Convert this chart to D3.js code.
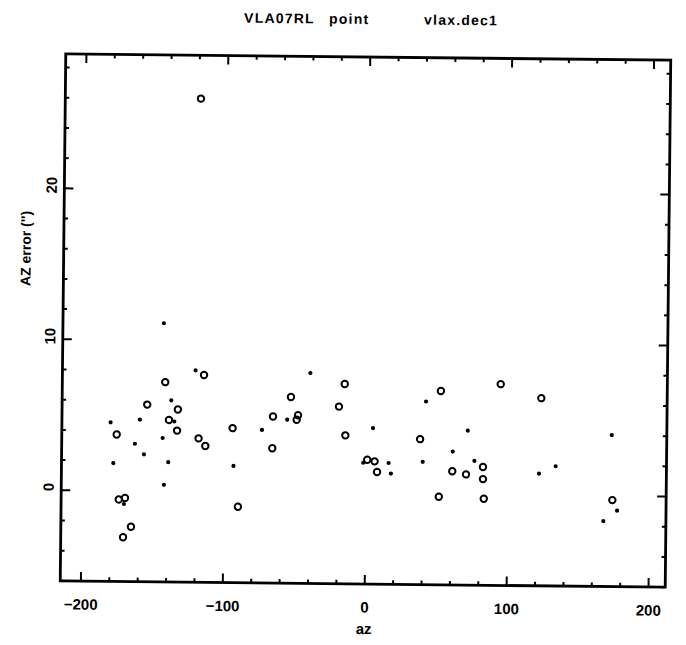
<!DOCTYPE html>
<html>
<head>
    <title>VLA07RL point</title>
    <script src="https://cdn.jsdelivr.net/npm/d3@7/dist/d3.min.js"></script>
    <style>
        body {
            margin: 0;
            background: #fff;
            font-family: "Liberation Sans", Arial, sans-serif;
        }
        text {
            font-weight: bold;
            fill: #000;
        }
    </style>
</head>
<body>
    <svg width="686" height="645" id="mainsvg" style="display: block;"></svg>
    <script>
        // filled dots
        const filledAz = [-143.1, -120.4, -137.3, -179.9, -159.3, -135.0, -143.1, -162.6, -156.2, -177.7,
            -139.0, -141.9, -93.0, -169.9, -39.5, -55.5, -73.2, 5.0, -1.6, 16.3,
            18.0, 42.2, 71.8, 61.4, 40.3, 76.7, 122.3, 134.0, 173.3, 177.6, 168.0];
        const filledErr = [11.1, 8.0, 6.0, 4.5, 4.7, 4.6, 3.5, 3.1, 2.4, 1.8,
            1.9, 0.4, 1.7, -0.9, 7.9, 4.8, 4.1, 4.3, 2.0, 2.0,
            1.3, 6.1, 4.2, 2.8, 2.1, 2.2, 1.4, 1.9, 4.0, -1.0, -1.7];

        // open circles
        const openAz = [-118.6, -114.4, -141.7, -154.2, -132.6, -138.8, -133.0, -175.5, -117.8, -113.0,
            -93.9, -173.6, -169.2, -164.8, -170.3, -89.6, -53.0, -65.5, -47.9, -48.8,
            -65.8, -15.2, -19.1, -14.4, 1.2, 6.4, 8.2, 52.6, 94.7, 123.4,
            38.3, 61.2, 70.9, 82.8, 82.9, 51.9, 83.6, 174.2];
        const openErr = [26.0, 7.7, 7.2, 5.7, 5.4, 4.7, 4.0, 3.7, 3.5, 3.0,
            4.2, -0.6, -0.5, -2.4, -3.1, -1.0, 6.3, 5.0, 5.1, 4.8,
            2.9, 7.2, 5.7, 3.8, 2.2, 2.1, 1.4, 6.8, 7.3, 6.4,
            3.6, 1.5, 1.3, 1.8, 1.0, -0.2, -0.3, -0.3];

        const xMajor = [-200, -100, 0, 100, 200];
        const yMajor = [0, 10, 20];
        const titleParts = ['VLA07RL', 'point', 'vlax.dec1'];
        const titleX = [241, 326, 421];

        const svg = d3.select('#mainsvg');
        const margin = { top: 57, right: 18, bottom: 61, left: 63 };
        const width = +svg.attr('width');
        const height = +svg.attr('height');
        const innerWidth = width - margin.left - margin.right;
        const innerHeight = height - margin.top - margin.bottom;

        // the scan is slightly tilted
        const page = svg.append('g')
            .attr('transform', 'rotate(0.6, 365, 320)');

        page.selectAll('text.title')
            .data(titleParts)
            .enter()
            .append('text')
                .attr('class', 'title')
                .attr('x', (d, i) => titleX[i])
                .attr('y', 24)
                .attr('font-size', 14)
                .attr('letter-spacing', 1.2)
                .text(d => d);

        const g = page.append('g')
            .attr('transform', `translate(${margin.left}, ${margin.top})`);

        const xScale = d3.scaleLinear()
            .domain([-214.2, 212.1])
            .range([0, innerWidth]);

        const yScale = d3.scaleLinear()
            .domain([-6.03, 28.87])
            .range([innerHeight, 0]);

        const xMinor = d3.range(-200, 201, 20).filter(v => !xMajor.includes(v));
        const yMinor = d3.range(-6, 29, 2).filter(v => !yMajor.includes(v));

        function styleAxis(sel) {
            sel.select('.domain').remove();
            sel.selectAll('line').attr('stroke', '#000').attr('stroke-width', 2);
        }

        // ticks on all four sides, pointing inwards
        g.append('g')
            .attr('transform', `translate(0, ${innerHeight})`)
            .call(d3.axisBottom(xScale).tickValues(xMajor).tickSize(-9).tickPadding(18).tickFormat(d => d === 0 ? '0' : d < 0 ? '\u2212' + (-d) : d))
            .call(styleAxis)
            .selectAll('text')
            .attr('font-size', 15)
            .attr('font-family', '"Liberation Sans", Arial, sans-serif');
        g.append('g')
            .attr('transform', `translate(0, ${innerHeight})`)
            .call(d3.axisBottom(xScale).tickValues(xMinor).tickSize(-4).tickFormat(''))
            .call(styleAxis);
        g.append('g')
            .call(d3.axisTop(xScale).tickValues(xMajor).tickSize(-9).tickFormat(''))
            .call(styleAxis);
        g.append('g')
            .call(d3.axisTop(xScale).tickValues(xMinor).tickSize(-4).tickFormat(''))
            .call(styleAxis);

        const yAxisG = g.append('g')
            .call(d3.axisLeft(yScale).tickValues(yMajor).tickSize(-9).tickFormat(d => d))
            .call(styleAxis);
        yAxisG.selectAll('text')
            .attr('font-size', 15)
            .attr('font-family', '"Liberation Sans", Arial, sans-serif')
            .attr('text-anchor', 'middle')
            .attr('dy', null)
            .attr('x', null)
            .attr('transform', 'translate(-13, -3) rotate(-90)')
            .attr('dominant-baseline', 'central');
        g.append('g')
            .call(d3.axisLeft(yScale).tickValues(yMinor).tickSize(-4).tickFormat(''))
            .call(styleAxis);
        g.append('g')
            .attr('transform', `translate(${innerWidth}, 0)`)
            .call(d3.axisRight(yScale).tickValues(yMajor).tickSize(-9).tickFormat(''))
            .call(styleAxis);
        g.append('g')
            .attr('transform', `translate(${innerWidth}, 0)`)
            .call(d3.axisRight(yScale).tickValues(yMinor).tickSize(-4).tickFormat(''))
            .call(styleAxis);

        // frame
        g.append('rect')
            .attr('width', innerWidth)
            .attr('height', innerHeight)
            .attr('fill', 'none')
            .attr('stroke', '#000')
            .attr('stroke-width', 2.8);

        // points
        g.selectAll('circle.open')
            .data(d3.zip(openAz, openErr))
            .enter()
            .append('circle')
                .attr('class', 'open')
                .attr('cx', d => xScale(d[0]))
                .attr('cy', d => yScale(d[1]))
                .attr('r', 3.2)
                .attr('fill', 'none')
                .attr('stroke', '#000')
                .attr('stroke-width', 2);

        g.selectAll('circle.filled')
            .data(d3.zip(filledAz, filledErr))
            .enter()
            .append('circle')
                .attr('class', 'filled')
                .attr('cx', d => xScale(d[0]))
                .attr('cy', d => yScale(d[1]))
                .attr('r', 2.1)
                .attr('fill', '#000');

        // axis labels
        g.append('text')
            .attr('x', xScale(0))
            .attr('y', innerHeight + 50)
            .attr('text-anchor', 'middle')
            .attr('font-size', 15)
            .text('az');

        g.append('text')
            .attr('transform', 'rotate(-90)')
            .attr('x', -195)
            .attr('y', -margin.left + 30)
            .attr('text-anchor', 'middle')
            .attr('font-size', 14)
            .text('AZ error (\'\')');
    </script>
</body>
</html>
